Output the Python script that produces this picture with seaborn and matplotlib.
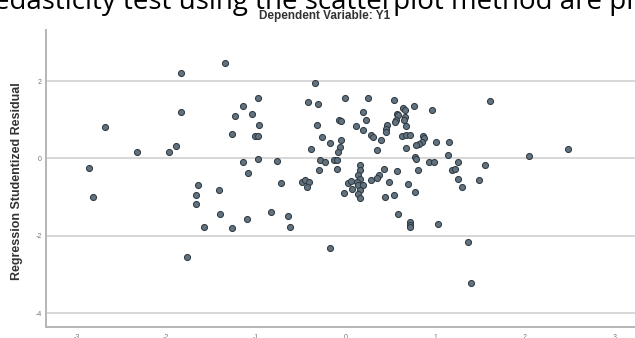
import matplotlib
matplotlib.use("Agg")
import matplotlib.pyplot as plt
import seaborn as sns
import pandas as pd

# Regression standardized predicted value (x) vs studentized residual (y)
pred = [-2.86, -2.82, -2.68, -2.33, -1.97, -1.89, -1.83, -1.83, -1.77, -1.34,
        -0.97, -1.14, -1.04, -1.23, -0.96, -1.26, -1.01, -0.97, -1.14, -0.97,
        -0.76, -1.09, -0.72, -1.65, -1.67, -1.41, -1.67, -1.58, -1.40, -1.26,
        -1.10, -0.83, -0.64, -0.62, -0.17,
        -0.49, -0.45, -0.41, -0.43, -0.34, -0.42, -0.31, 0.00, -0.07, -0.05,
        -0.32, -0.26, -0.17, -0.05, -0.06, -0.08, -0.38, -0.28, -0.23, -0.13,
        -0.09, -0.30, -0.09, -0.02, 0.03,
        0.25, 0.54, 1.61, 0.76, 0.64, 0.66, 0.96, 0.20, 0.57, 0.59,
        0.56, 0.55, 0.66, 0.65, 0.23, 0.12, 0.20, 0.46, 0.45, 0.45,
        0.67, 0.29, 0.31, 0.40, 0.63, 0.67, 0.72, 0.86, 0.88, 0.85,
        0.82, 0.79, 0.67, 0.35, 1.01, 1.16, 1.14, 0.77, 0.79, 0.93,
        0.99, 1.25, 1.56, 0.16, 0.16, 0.43, 0.58, 0.81, 1.19, 1.22,
        0.14, 0.16, 0.13, 0.37, 0.35, 0.29, 0.06, 0.48, 0.70, 1.25,
        1.49, 1.30, 0.07, 0.14, 0.20, 0.16, 0.14, 0.16, 0.44, 0.54,
        0.77, 2.05, 2.48, 0.72, 0.72, 0.72, 1.03, 1.37, 1.40, 0.59]
resid = [-0.26, -0.99, 0.81, 0.16, 0.16, 0.31, 2.21, 1.19, -2.56, 2.46,
         1.55, 1.36, 1.16, 1.09, 0.87, 0.62, 0.58, 0.58, -0.10, -0.01,
         -0.07, -0.38, -0.64, -0.68, -0.94, -0.83, -1.19, -1.77, -1.43, -1.79,
         -1.56, -1.38, -1.48, -1.77, -2.31,
         -0.61, -0.57, -0.60, -0.75, 1.94, 1.46, 1.40, 1.57, 1.00, 0.96,
         0.86, 0.55, 0.41, 0.47, 0.29, 0.16, 0.23, -0.03, -0.10, -0.05,
         -0.03, -0.29, -0.27, -0.89, -0.63,
         1.55, 1.52, 1.48, 1.36, 1.31, 1.26, 1.25, 1.20, 1.16, 1.12,
         0.99, 0.94, 1.07, 1.00, 0.99, 0.84, 0.73, 0.86, 0.75, 0.68,
         0.85, 0.60, 0.55, 0.47, 0.57, 0.60, 0.60, 0.57, 0.54, 0.42,
         0.36, 0.34, 0.28, 0.21, 0.42, 0.42, 0.10, 0.03, -0.01, -0.10,
         -0.10, -0.10, -0.16, -0.18, -0.31, -0.27, -0.33, -0.31, -0.31, -0.27,
         -0.44, -0.53, -0.61, -0.44, -0.50, -0.57, -0.59, -0.60, -0.66, -0.53,
         -0.57, -0.74, -0.79, -0.70, -0.68, -0.83, -0.92, -1.02, -0.99, -0.94,
         -0.87, 0.05, 0.23, -1.65, -1.71, -1.77, -1.70, -2.16, -3.21, -1.44]

x_ticks = [-3, -2, -1, 0, 1, 2, 3]
y_ticks = [-4, -2, 0, 2]
title = "Dependent Variable: Y1"
y_label = "Regression Studentized Residual"
page_text = "edasticity test using the scatterplot method are pr"

df = pd.DataFrame({"pred": pred, "resid": resid})

sns.set_theme(style="white")
plt.rcParams["font.family"] = ["Liberation Sans", "DejaVu Sans"]

fig = plt.figure(figsize=(6.35, 3.38), dpi=100)
ax = fig.add_axes([46 / 635, 1 - 327 / 338, 1 - 46 / 635 + 0.01, (327 - 30) / 338])

for yv in y_ticks:
    ax.axhline(yv, color="#d4d4d4", lw=1.3, zorder=0)

sns.scatterplot(data=df, x="pred", y="resid", ax=ax, s=19,
                color="#62727e", edgecolor="#2f3b44", linewidth=0.75, zorder=3)

ax.set_xlim(-3.34, 3.3)
ax.set_ylim(-4.36, 3.32)
ax.set_xticks(x_ticks)
ax.set_yticks(y_ticks)
ax.set_xticklabels([str(v) for v in x_ticks])
ax.set_yticklabels([str(v) for v in y_ticks])
ax.tick_params(axis="both", labelsize=5, colors="#777777", length=0, pad=3)
ax.tick_params(axis="x", pad=5)
ax.set_xlabel("")
ax.set_ylabel(y_label, fontsize=9, fontweight="bold", color="#333333")
ax.yaxis.set_label_coords(-0.039, 0.49)

for side in ["top", "right"]:
    ax.spines[side].set_visible(False)
for side in ["left", "bottom"]:
    ax.spines[side].set_color("#b5b5b5")
    ax.spines[side].set_linewidth(1.4)

fig.text(325 / 635, 1 - 16 / 338, title, ha="center", va="center",
         fontsize=8.5, fontweight="bold", color="#333333")

fig.text(-5.5 / 635, 1 - 9.5 / 338, page_text, ha="left", va="baseline",
         fontsize=20, color="black", family=["Open Sans", "DejaVu Sans"])

fig.savefig("out.png", dpi=100)
